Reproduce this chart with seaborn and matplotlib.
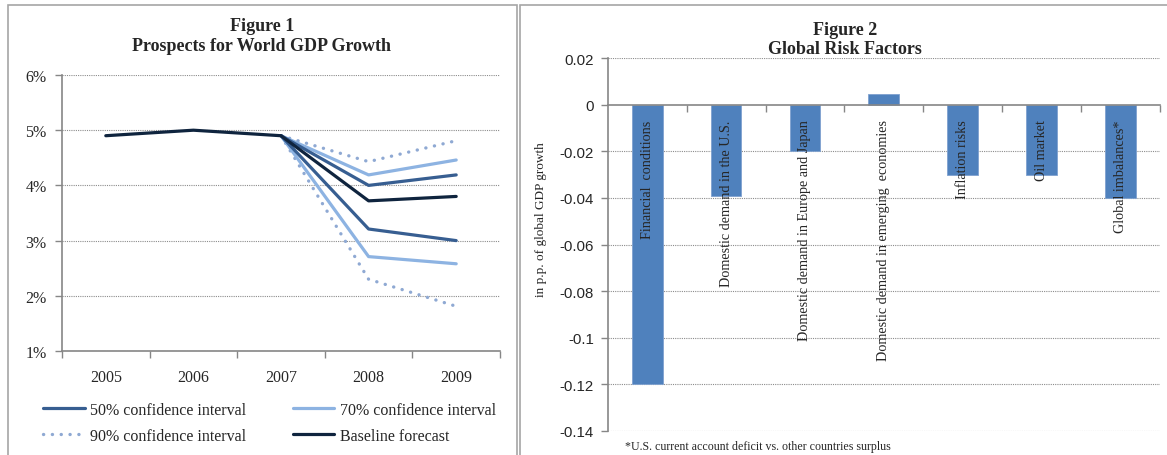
import matplotlib
matplotlib.use('Agg')
import matplotlib.pyplot as plt
from matplotlib.patches import Rectangle
from matplotlib.ticker import FixedLocator, PercentFormatter
import seaborn as sns
import pandas as pd

# Figure 1 data (world GDP growth, %)
years = [2005, 2006, 2007, 2008, 2009]
baseline = [4.9, 5.0, 4.9, 3.72, 3.80]
fan_years = [2007, 2008, 2009]
ci50_upper = [4.9, 4.00, 4.19]
ci50_lower = [4.9, 3.21, 3.00]
ci70_upper = [4.9, 4.19, 4.46]
ci70_lower = [4.9, 2.71, 2.58]
ci90_upper = [4.9, 4.43, 4.81]
ci90_lower = [4.9, 2.30, 1.81]

# Figure 2 data (risk factors, p.p. of global GDP growth)
factors = ['Financial  conditions', 'Domestic demand in the U.S.',
           'Domestic demand in Europe and Japan',
           'Domestic demand in emerging  economies',
           'Inflation risks', 'Oil market', 'Global imbalances*']
impacts = [-0.12, -0.039, -0.0198, 0.0048, -0.030, -0.030, -0.040]

sns.set_style('white')
plt.rcParams['font.family'] = ['Liberation Serif', 'DejaVu Serif']

W, H = 1167, 456
fig = plt.figure(figsize=(W / 100, H / 100), dpi=100)

def fig_rect(x0, y0, x1, y1):
    return [x0 / W, 1 - y1 / H, (x1 - x0) / W, (y1 - y0) / H]

# panel borders
fig.patches.append(Rectangle((8 / W, -0.05), 509 / W, 1 - 6 / H + 0.05,
                             transform=fig.transFigure, fill=False,
                             ec='#A6A6A6', lw=1.2))
fig.patches.append(Rectangle((520 / W, -0.05), 660 / W, 1 - 6 / H + 0.05,
                             transform=fig.transFigure, fill=False,
                             ec='#A6A6A6', lw=1.2))

grey = '#868686'

# ---- Figure 1: fan chart
ax1 = fig.add_axes(fig_rect(62, 76, 500, 352))
c50, c70, c90, cbase = '#375E91', '#8DB3E2', '#8FA9D3', '#0F243E'
lw = 2.3
dotted = dict(ls=(0, (0.05, 2.6)), dash_capstyle='round', lw=2.4)

sns.lineplot(x=fan_years, y=ci90_upper, color=c90, ax=ax1, label='90% confidence interval', **dotted)
sns.lineplot(x=fan_years, y=ci90_lower, color=c90, ax=ax1, **dotted)
sns.lineplot(x=fan_years, y=ci70_upper, color=c70, lw=lw, ax=ax1, label='70% confidence interval')
sns.lineplot(x=fan_years, y=ci70_lower, color=c70, lw=lw, ax=ax1)
sns.lineplot(x=fan_years, y=ci50_upper, color=c50, lw=lw, ax=ax1, label='50% confidence interval')
sns.lineplot(x=fan_years, y=ci50_lower, color=c50, lw=lw, ax=ax1)
sns.lineplot(x=years, y=baseline, color=cbase, lw=lw, ax=ax1, label='Baseline forecast')

ax1.set_xlim(2004.5, 2009.5)
ax1.set_ylim(1, 6)
ax1.set_yticks([1, 2, 3, 4, 5, 6])
ax1.yaxis.set_major_formatter(PercentFormatter(decimals=0))
ax1.set_xticks(years)
ax1.set_xticklabels([str(y) for y in years])
ax1.xaxis.set_minor_locator(FixedLocator([2004.5 + i for i in range(6)]))
ax1.tick_params(axis='x', which='major', length=0, pad=13, labelsize=11.5)
ax1.tick_params(axis='x', which='minor', length=5, width=1, color=grey, direction='out', bottom=True)
ax1.tick_params(axis='y', length=5, width=1, color=grey, direction='out', left=True, pad=6, labelsize=11.5)
ax1.yaxis.grid(True, ls=(0, (1, 1)), color='#8C8C8C', lw=0.8)
for s in ['top', 'right']:
    ax1.spines[s].set_visible(False)
for s in ['left', 'bottom']:
    ax1.spines[s].set_color(grey)
    ax1.spines[s].set_linewidth(1.2)
ax1.set_xlabel('')
ax1.set_ylabel('')

h, l = ax1.get_legend_handles_labels()
order = [2, 0, 1, 3]
ax1.legend([h[i] for i in order], [l[i] for i in order], ncol=2,
           loc='upper left', bbox_to_anchor=(43 / W, 1 - 403 / H),
           bbox_transform=fig.transFigure, frameon=False, fontsize=11.5,
           handlelength=2.6, handletextpad=0.35, columnspacing=2.9,
           labelspacing=0.6, borderaxespad=0, borderpad=0)

fig.text(262 / W, 1 - 36.5 / H, 'Figure 1\nProspects for World GDP Growth',
         ha='center', va='center', fontsize=13, fontweight='bold', linespacing=1.2)

# ---- Figure 2: risk factors
ax2 = fig.add_axes(fig_rect(607.7, 59.3, 1160, 431.7))
df2 = pd.DataFrame({'factor': factors, 'impact': impacts})
sns.barplot(data=df2, x='factor', y='impact', color='#4F81BD', saturation=1,
            width=0.39, edgecolor='#7FA1CF', linewidth=0.6, ax=ax2)
ax2.set_xlim(-0.5, 6.5)
ax2.set_ylim(-0.14, 0.02)
ax2.set_yticks([0.02, 0, -0.02, -0.04, -0.06, -0.08, -0.1, -0.12, -0.14])
ax2.set_yticklabels(['0.02', '0', '-0.02', '-0.04', '-0.06', '-0.08', '-0.1', '-0.12', '-0.14'],
                    fontfamily='Liberation Sans', fontsize=10.8)
ax2.set_xticks([])
ax2.xaxis.set_minor_locator(FixedLocator([0.5 + i for i in range(7)]))
ax2.tick_params(axis='x', which='minor', length=5, width=1, color=grey, direction='out', bottom=True)
ax2.tick_params(axis='y', length=5, width=1, color=grey, direction='out', left=True, pad=5)
for yv in [0.02, -0.02, -0.04, -0.06, -0.08, -0.1, -0.12, -0.14]:
    ax2.axhline(yv, ls=(0, (1, 1)), color='#8C8C8C', lw=0.8, zorder=0)
ax2.spines['bottom'].set_position(('data', 0))
for s in ['top', 'right']:
    ax2.spines[s].set_visible(False)
for s in ['left', 'bottom']:
    ax2.spines[s].set_color(grey)
    ax2.spines[s].set_linewidth(1.2)
ax2.set_xlabel('')
ax2.set_ylabel('')
fig.text(541 / W, 1 - 220 / H, 'in p.p. of global GDP growth', rotation=90,
         ha='center', va='center', fontsize=9.5)

for i, name in enumerate(factors):
    ax2.text(i, -0.0062, name, rotation=90, ha='center', va='top', fontsize=10.2)

fig.text(845 / W, 1 - 40 / H, 'Figure 2\nGlobal Risk Factors',
         ha='center', va='center', fontsize=13, fontweight='bold', linespacing=1.1)
fig.text(625 / W, 1 - 447 / H, '*U.S. current account deficit vs. other countries surplus',
         ha='left', va='center', fontsize=8.6)

fig.savefig('out.png', dpi=100)
